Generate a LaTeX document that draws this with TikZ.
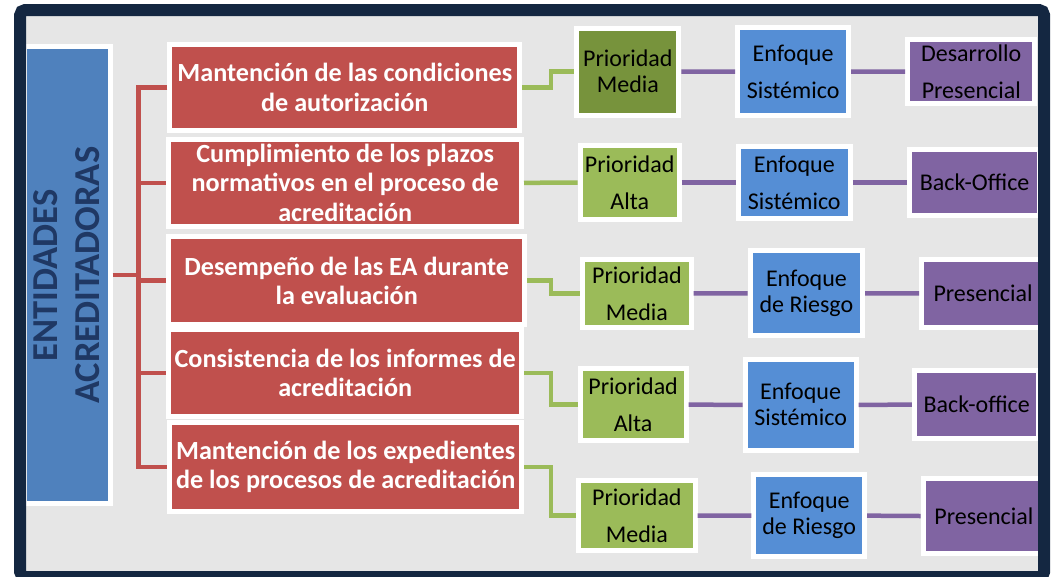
\documentclass[tikz,border=0pt]{standalone}
\usepackage{fontspec}
\setmainfont{Carlito}
\definecolor{framec}{HTML}{142741}
\definecolor{bgc}{HTML}{E6E6E6}
\definecolor{redc}{HTML}{C0504D}
\definecolor{lbluec}{HTML}{4F81BD}
\definecolor{navyc}{HTML}{1F3864}
\definecolor{dgreenc}{HTML}{77933C}
\definecolor{lgreenc}{HTML}{9BBB59}
\definecolor{bbluec}{HTML}{558ED5}
\definecolor{purpc}{HTML}{8064A2}
\tikzset{
  sz/.style 2 args={minimum width=#1pt, minimum height=#2pt},
  boxbase/.style={draw=white, line width=5pt, inner sep=0pt, align=center},
  leftbox/.style={boxbase, fill=lbluec, text=navyc, font=\fontsize{36.5}{42}\selectfont\bfseries},
  redbox/.style={boxbase, fill=redc, text=white, font=\fontsize{26.2}{29.5}\selectfont\bfseries},
  sbox/.style={boxbase, text=black, font=\fontsize{24}{37}\selectfont},
  sboxt/.style={boxbase, text=black, font=\fontsize{24}{26}\selectfont},
  rline/.style={draw=redc, line width=4.5pt},
  gline/.style={draw=lgreenc, line width=4.5pt},
  pline/.style={draw=purpc, line width=4.5pt},
}
\begin{document}
\begin{tikzpicture}[x=1pt,y=-1pt]
\useasboundingbox (0,0) rectangle (1051,576);
% background
\fill[bgc] (20,10) rectangle (1044,577);

% left box
\node[leftbox, rotate=90, sz={456.7}{86}] (ea) at (67,275.2) {ENTIDADES\\ACREDITADORAS};

% red boxes
\node[redbox, sz={349.8}{86.6}] (R1) at (344.8,87.5) {Mantención de las condiciones\\de autorización};
\node[redbox, sz={352.6}{87.3}] (R2) at (345.2,182.85) {Cumplimiento de los plazos\\normativos en el proceso de\\acreditación};
\node[redbox, sz={355.6}{87.7}] (R3) at (346.7,280.65) {Desempeño de las EA durante\\la evaluación};
\node[redbox, sz={352.6}{87.6}] (R4) at (345.2,373) {Consistencia de los informes de\\acreditación};
\node[redbox, sz={351.6}{88.4}] (R5) at (345.7,467) {Mantención de los expedientes\\de los procesos de acreditación};

% green boxes
\node[sboxt, fill=dgreenc, sz={102.1}{87}] (G1) at (627.85,71.7) {Prioridad\\Media};
\node[sbox, fill=lgreenc, sz={99.2}{73.4}] (G2) at (629.7,182.5) {Prioridad\\Alta};
\node[sbox, fill=lgreenc, sz={108.5}{68.3}] (G3) at (636.95,293.35) {Prioridad\\Media};
\node[sbox, fill=lgreenc, sz={106}{72.3}] (G4) at (633.1,404.65) {Prioridad\\Alta};
\node[sbox, fill=lgreenc, sz={116.7}{69.4}] (G5) at (636.85,515.5) {Prioridad\\Media};

% blue boxes
\node[sbox, fill=bbluec, sz={111}{88.3}] (B1) at (793.1,71.65) {Enfoque\\Sistémico};
\node[sbox, fill=bbluec, sz={112}{72}] (B2) at (794.3,182.5) {Enfoque\\Sistémico};
\node[sboxt, fill=bbluec, sz={112.6}{85}] (B3) at (806.4,293.3) {Enfoque\\de Riesgo};
\node[sboxt, fill=bbluec, sz={111}{90.7}] (B4) at (800.6,404.85) {Enfoque\\Sistémico};
\node[sboxt, fill=bbluec, sz={110.6}{82.3}] (B5) at (809.2,515.65) {Enfoque\\de Riesgo};

% purple boxes
\node[sbox, fill=purpc, sz={127.3}{63.4}] (P1) at (971.25,71.5) {Desarrollo\\Presencial};
\node[sbox, fill=purpc, sz={130}{66.6}] (P2) at (974.6,182.5) {Back-Office};
\node[sbox, fill=purpc, sz={122.9}{68.3}] (P3) at (983,293.35) {Presencial};
\node[sbox, fill=purpc, sz={124.5}{67.7}] (P4) at (976.65,404.65) {Back-office};
\node[sbox, fill=purpc, sz={121.3}{75}] (P5) at (983.85,516) {Presencial};

% red bracket
\coordinate (bx) at (138.6,0);
\draw[rline] (R1.west) -| (bx |- R5.west) -- (R5.west);
\draw[rline] (bx |- R2.west) -- (R2.west);
\draw[rline] (bx |- R3.west) -- (R3.west);
\draw[rline] (bx |- R4.west) -- (R4.west);
\draw[rline] (ea.south) -- (ea.south -| bx);

% green connectors
\coordinate (ex) at (551,0);
\draw[gline] (R1.east) -| (ex |- G1.west) -- (G1.west);
\draw[gline] (R2.east) -- (G2.west);
\draw[gline] (R3.east) -| (ex |- G3.west) -- (G3.west);
\draw[gline] (R4.east) -| (ex |- G4.west) -- (G4.west);
\draw[gline] (R5.east) -| (ex |- G5.west) -- (G5.west);

% purple connectors
\draw[pline] (G1.east) -- (B1.west);
\draw[pline] (B1.east) -- (P1.west);
\draw[pline] (G2.east) -- (B2.west);
\draw[pline] (B2.east) -- (P2.west);
\draw[pline] (G3.east) -- (B3.west);
\draw[pline] (B3.east) -- (P3.west);
\draw[pline] (G4.east) -- (B4.west);
\draw[pline] (B4.east) -- (P4.west);
\draw[pline] (G5.east) -- (B5.west);
\draw[pline] (B5.east) -- (P5.west);

% frame
\draw[framec, line width=12pt, rounded corners=5pt] (20.2,10) rectangle (1044,577);
\end{tikzpicture}
\end{document}
